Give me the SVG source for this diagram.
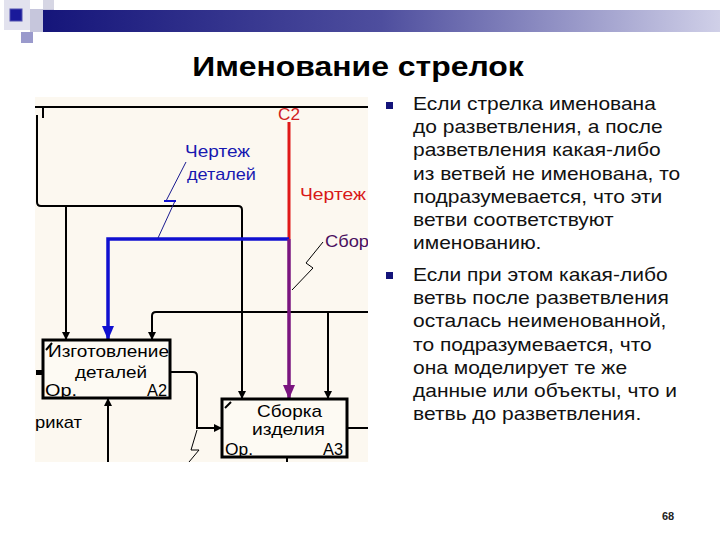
<svg xmlns="http://www.w3.org/2000/svg" width="720" height="540" viewBox="0 0 720 540">
<defs>
<linearGradient id="bar" x1="0" y1="0" x2="1" y2="0">
<stop offset="0" stop-color="#15157a"/>
<stop offset="0.5" stop-color="#4e4e9e"/>
<stop offset="1" stop-color="#d0d0e8"/>
</linearGradient>
<clipPath id="dclip"><rect x="35" y="97" width="333" height="365"/></clipPath>
<marker id="ab" markerWidth="8" markerHeight="8" refX="7" refY="4" orient="auto" markerUnits="userSpaceOnUse">
<path d="M0,0 L8,4 L0,8 Z" fill="#000"/>
</marker>
<marker id="abl" markerWidth="14" markerHeight="12" refX="13" refY="6" orient="auto" markerUnits="userSpaceOnUse">
<path d="M0,0 L14,6 L0,12 Z" fill="#1010d0"/>
</marker>
<marker id="apu" markerWidth="14" markerHeight="12" refX="13" refY="6" orient="auto" markerUnits="userSpaceOnUse">
<path d="M0,0 L14,6 L0,12 Z" fill="#7a157f"/>
</marker>
</defs>
<style>
.ln{fill:none;stroke:#000;stroke-width:2}
.thin{fill:none;stroke:#000;stroke-width:1}
.box{fill:#fdfaf3;stroke:#000;stroke-width:3}
.bt{font-family:"Liberation Sans",Arial,sans-serif;font-size:17px;fill:#000}
.body{font-family:"Liberation Sans",Arial,sans-serif;font-size:18px;fill:#111}
.bul{fill:#14147a}
</style>
<rect width="720" height="540" fill="#fff"/>
<g id="decor">
<rect x="4" y="0" width="26" height="30" fill="#e2e2ee"/>
<rect x="43" y="0" width="11" height="11" fill="#d6d6e4"/>
<rect x="30" y="9" width="24" height="23" fill="#c6c6dc"/>
<rect x="43" y="10" width="677" height="22" fill="url(#bar)"/>
<rect x="10" y="9" width="12" height="12" fill="#1a1a9a" stroke="#5050b0" stroke-width="1"/>
<rect x="21" y="32" width="12" height="11" fill="#9a9acc"/>
</g>
<g transform="translate(-50.1,0) scale(1.14,1)">
<text x="358" y="76" text-anchor="middle" font-family="'Liberation Sans',Arial,sans-serif" font-size="28" font-weight="bold" fill="#000">Именование стрелок</text>
</g>
<g clip-path="url(#dclip)">
<rect x="35" y="97" width="333" height="365" fill="#fcf8f0"/>
<g id="connectors">
<line class="ln" x1="35" y1="107" x2="368" y2="107"/>
<line class="ln" x1="43" y1="107" x2="43" y2="118"/>
<path class="ln" d="M37,115 V202 Q37,206 41,206 H238 Q242,206 242,210 V398" marker-end="url(#ab)"/>
<path class="ln" d="M66,206 V339" marker-end="url(#ab)"/>
<path class="ln" d="M368,312 H156 Q152,312 152,316 V339" marker-end="url(#ab)"/>
<path class="ln" d="M328,312 V398" marker-end="url(#ab)"/>
<path class="ln" d="M108,462 V399" marker-end="url(#ab)"/>
<path class="ln" d="M170,372 H193 Q197,372 197,376 V428 H221" marker-end="url(#ab)"/>
<line class="ln" x1="347" y1="428" x2="368" y2="428"/>
<line class="ln" x1="287" y1="462" x2="287" y2="458"/>
<rect x="36" y="370" width="7" height="5" fill="#000"/>
<line x1="289" y1="122" x2="289" y2="239" stroke="#e01818" stroke-width="3"/>
<path d="M289,239 H108 V339" fill="none" stroke="#1010d0" stroke-width="3.5" marker-end="url(#abl)"/>
<path d="M289,239 V398" fill="none" stroke="#7a157f" stroke-width="3.5" marker-end="url(#apu)"/>
<polyline points="186,162 166,201 175,201 158,238" fill="none" stroke="#1a1a90" stroke-width="1"/>
<line x1="164" y1="201" x2="176" y2="201" stroke="#1010d0" stroke-width="2"/>
<polyline class="thin" points="323,242 306,263 313,268 292,290"/>
<polyline class="thin" points="197,430 191,450 199,450 189,462"/>
</g>
<g id="nodeA2">
<rect class="box" x="43" y="340" width="127" height="58"/>
<line class="ln" x1="46" y1="350" x2="52" y2="343"/>
<text class="bt" x="48" y="357" textLength="121" lengthAdjust="spacingAndGlyphs">Изготовление</text>
<text class="bt" x="75" y="378" textLength="72" lengthAdjust="spacingAndGlyphs">деталей</text>
<text class="bt" x="45" y="396" textLength="32" lengthAdjust="spacingAndGlyphs">Ор.</text>
<text class="bt" x="147" y="396" textLength="20" lengthAdjust="spacingAndGlyphs">А2</text>
</g>
<g id="nodeA3">
<rect class="box" x="222" y="399" width="125" height="58"/>
<line class="ln" x1="225" y1="408" x2="231" y2="402"/>
<text class="bt" x="257" y="417" textLength="65" lengthAdjust="spacingAndGlyphs">Сборка</text>
<text class="bt" x="252" y="435" textLength="73" lengthAdjust="spacingAndGlyphs">изделия</text>
<text class="bt" x="225" y="455" textLength="28" lengthAdjust="spacingAndGlyphs">Ор.</text>
<text class="bt" x="323" y="455" textLength="20" lengthAdjust="spacingAndGlyphs">А3</text>
</g>
<g id="labels">
<text x="278" y="120" textLength="22" lengthAdjust="spacingAndGlyphs" font-family="'Liberation Sans',Arial,sans-serif" font-size="16" fill="#d02020">С2</text>
<text class="bt" x="185" y="157" textLength="65" lengthAdjust="spacingAndGlyphs" style="fill:#1818b0">Чертеж</text>
<text class="bt" x="187" y="180" textLength="69" lengthAdjust="spacingAndGlyphs" style="fill:#1818b0">деталей</text>
<text class="bt" x="300" y="200" textLength="66" lengthAdjust="spacingAndGlyphs" style="fill:#d81818">Чертеж</text>
<text class="bt" x="325" y="247" textLength="44" lengthAdjust="spacingAndGlyphs" style="fill:#4a1060">Сбор</text>
<text class="bt" x="35" y="428" textLength="47" lengthAdjust="spacingAndGlyphs">рикат</text>
</g>
</g>
<g transform="translate(-68.1,0) scale(1.165,1)">
<g id="text1">
<text class="body">
<tspan x="413" y="110">Если стрелка именована</tspan>
<tspan x="413" y="133.2">до разветвления, а после</tspan>
<tspan x="413" y="156.4">разветвления какая-либо</tspan>
<tspan x="413" y="179.6">из ветвей не именована, то</tspan>
<tspan x="413" y="202.8">подразумевается, что эти</tspan>
<tspan x="413" y="226">ветви соответствуют</tspan>
<tspan x="413" y="249.2">именованию.</tspan>
</text>
</g>
<g id="text2">
<text class="body">
<tspan x="413" y="281">Если при этом какая-либо</tspan>
<tspan x="413" y="304.2">ветвь после разветвления</tspan>
<tspan x="413" y="327.4">осталась неименованной,</tspan>
<tspan x="413" y="350.6">то подразумевается, что</tspan>
<tspan x="413" y="373.8">она моделирует те же</tspan>
<tspan x="413" y="397">данные или объекты, что и</tspan>
<tspan x="413" y="420">ветвь до разветвления.</tspan>
</text>
</g>
</g>
<rect class="bul" x="386" y="102" width="7" height="7"/>
<rect class="bul" x="386" y="272" width="7" height="7"/>
<text x="668" y="520" text-anchor="middle" font-family="'Liberation Sans',Arial,sans-serif" font-size="11" font-weight="bold" fill="#222">68</text>
</svg>
